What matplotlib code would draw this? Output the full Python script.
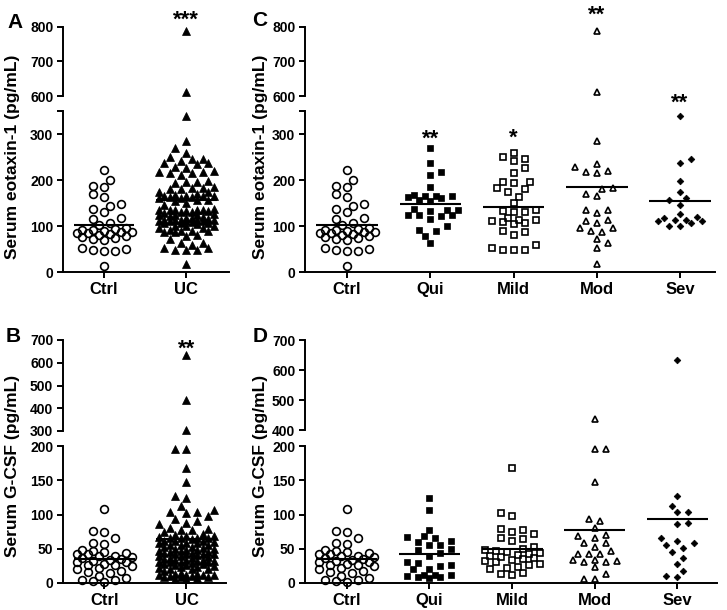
import matplotlib.pyplot as plt
import matplotlib.transforms as mtransforms
import numpy as np

# Serum eotaxin-1 (pg/mL)
eot_ctrl = [222, 201, 187, 184, 169, 164, 147, 144, 138, 130, 117, 115, 106, 102,
            95, 93, 92, 92, 90, 88, 86, 85, 84, 82, 80, 78, 76, 75, 72, 70,
            52, 50, 48, 46, 45, 12]
eot_qui = [269, 236, 217, 211, 184, 167, 166, 165, 165, 163, 160, 157, 155, 136,
           135, 134, 132, 124, 123, 122, 125, 115, 100, 91, 89, 78, 62]
eot_mild = [259, 251, 245, 241, 227, 215, 195, 193, 196, 182, 180, 173, 164, 151,
            135, 133, 131, 130, 117, 114, 110, 108, 114, 106, 104, 86, 81, 90,
            58, 48, 47, 47, 52]
eot_mod = [788, 612, 285, 228, 218, 215, 220, 234, 180, 165, 170, 182, 135, 135,
           128, 107, 113, 110, 95, 88, 90, 95, 72, 63, 53, 17]
eot_sev = [340, 245, 237, 197, 174, 161, 157, 146, 126, 120, 110, 107, 112, 118,
           110, 113, 100, 100]

# Serum G-CSF (pg/mL)
gcsf_ctrl = [108, 76, 75, 65, 58, 57, 48, 46, 45, 44, 43, 42, 40, 40, 38, 37, 35,
             33, 32, 30, 30, 28, 27, 26, 25, 22, 20, 18, 16, 15, 10, 8, 5, 4, 3, 2]
gcsf_qui = [124, 107, 78, 69, 67, 65, 61, 60, 56, 55, 49, 48, 44, 40, 30, 29, 26,
            25, 21, 20, 12, 11, 10, 9, 9, 8, 11]
gcsf_mild = [168, 102, 98, 79, 78, 74, 71, 66, 64, 62, 50, 52, 48, 46, 45, 44, 42,
             41, 40, 38, 36, 35, 33, 32, 30, 28, 26, 24, 22, 20, 15, 13, 12]
gcsf_mod = [436, 195, 195, 148, 94, 90, 81, 69, 65, 70, 59, 58, 52, 46, 43, 42, 42,
            33, 31, 33, 30, 32, 24, 13, 6, 6]
gcsf_sev = [633, 127, 104, 103, 112, 86, 87, 61, 66, 58, 55, 51, 45, 37, 28, 18, 9, 10]
gcsf_uc_extra = [305]

eot_uc = eot_qui + eot_mild + eot_mod + eot_sev
gcsf_uc = gcsf_qui + gcsf_mild + gcsf_mod + gcsf_sev + gcsf_uc_extra

two_groups = ["Ctrl", "UC"]
five_groups = ["Ctrl", "Qui", "Mild", "Mod", "Sev"]

plt.rcParams.update({
    "font.family": ["Liberation Sans", "DejaVu Sans"],
    "font.weight": "bold",
    "axes.linewidth": 1.4,
})

styles = {
    "ctrl": dict(marker="o", ms=5.6, mfc="none", mec="k", mew=1.2),
    "uc": dict(marker="^", ms=5.2, mfc="k", mec="k", mew=0.5),
    "qui": dict(marker="s", ms=5.0, mfc="k", mec="k", mew=0.5),
    "mild": dict(marker="s", ms=4.6, mfc="none", mec="k", mew=1.2),
    "mod": dict(marker="^", ms=4.6, mfc="none", mec="k", mew=1.2),
    "sev": dict(marker="D", ms=3.4, mfc="k", mec="k", mew=0.5),
}

W, H = 727, 610
fig = plt.figure(figsize=(W / 100, H / 100), dpi=100)


def px_box(x0, x1, ytop, ybot):
    return [x0 / W, 1 - ybot / H, (x1 - x0) / W, (ybot - ytop) / H]


def beeswarm(ypx, diam=8.0, step=5.5, maxhalf=30.0):
    # place points one by one (low to high) at the free spot nearest the centre
    n_side = int(maxhalf // step)
    placed = []
    xs = np.zeros(len(ypx))
    for k, i in enumerate(np.argsort(ypx)):
        sgn = 1 if k % 2 == 0 else -1
        cands = [0.0]
        for j in range(1, n_side + 1):
            cands += [sgn * j * step, -sgn * j * step]
        best, bestd = 0.0, -1.0
        for c in cands:
            d = min((np.hypot(c - px, ypx[i] - py) for px, py in placed), default=1e9)
            if d >= diam:
                best = c
                break
            if d > bestd:
                best, bestd = c, d
        xs[i] = best
        placed.append((best, ypx[i]))
    return xs


def panel(x0, x1, low_box, up_box, low_lim, up_lim, low_ticks, low_labels,
          up_ticks, groups, names, xlim):
    ax_lo = fig.add_axes(px_box(x0, x1, *low_box))
    ax_up = fig.add_axes(px_box(x0, x1, *up_box))
    for ax in (ax_lo, ax_up):
        ax.set_xlim(*xlim)
        ax.spines["top"].set_visible(False)
        ax.spines["right"].set_visible(False)
        ax.tick_params(axis="y", direction="out", length=4, width=1.4,
                       labelsize=10, pad=3)
        ax.patch.set_alpha(0)
    ax_up.spines["bottom"].set_visible(False)
    ax_up.set_xticks([])
    ax_lo.set_ylim(*low_lim)
    ax_up.set_ylim(*up_lim)
    ax_lo.set_yticks(low_ticks, low_labels)
    ax_up.set_yticks(up_ticks)
    ax_lo.set_xticks(range(len(names)), names)
    ax_lo.tick_params(axis="x", length=4, width=1.4, labelsize=12, pad=3)

    xpx = (x1 - x0) / (xlim[1] - xlim[0])
    for i, (vals, st) in enumerate(groups):
        v = np.asarray(vals, float)
        for ax, (lo, hi), (yt, yb) in ((ax_lo, low_lim, low_box), (ax_up, up_lim, up_box)):
            m = (v >= lo) & (v <= hi)
            ypx = (v[m] - lo) * (yb - yt) / (hi - lo)
            xs = i + beeswarm(ypx) / xpx
            ax.plot(xs, v[m], ls="none", clip_on=False, zorder=4, **styles[st])
        ax_lo.hlines(v.mean(), i - 0.37, i + 0.37, color="k", lw=1.5, zorder=5)
    return ax_lo, ax_up


def stars(ax, x, ypx, s):
    tr = mtransforms.blended_transform_factory(ax.transData, fig.transFigure)
    ax.text(x, 1 - (ypx + 12) / H, s, transform=tr, ha="center", va="baseline",
            fontsize=16)


# A
a_lo, a_up = panel(63, 229, (111, 272), (27, 96), (0, 350), (600, 800),
                   [0, 100, 200, 300, 350], ["0", "100", "200", "300", ""],
                   [600, 700, 800],
                   [(eot_ctrl, "ctrl"), (eot_uc, "uc")], two_groups, (-0.5, 1.52))
stars(a_lo, 1, 14, "***")

# C
c_lo, c_up = panel(305, 715, (111, 272), (27, 96), (0, 350), (600, 800),
                   [0, 100, 200, 300, 350], ["0", "100", "200", "300", ""],
                   [600, 700, 800],
                   [(eot_ctrl, "ctrl"), (eot_qui, "qui"), (eot_mild, "mild"),
                    (eot_mod, "mod"), (eot_sev, "sev")], five_groups, (-0.506, 4.42))
stars(c_lo, 1, 133, "**")
stars(c_lo, 2, 132, "*")
stars(c_lo, 3, 9, "**")
stars(c_lo, 4, 97, "**")

# B
b_lo, b_up = panel(63, 226, (446, 583), (340, 431), (0, 200), (300, 700),
                   [0, 50, 100, 150, 200], ["0", "50", "100", "150", "200"],
                   [300, 400, 500, 600, 700],
                   [(gcsf_ctrl, "ctrl"), (gcsf_uc, "uc")], two_groups, (-0.5, 1.48))
stars(b_lo, 1, 343, "**")

# D
d_lo, d_up = panel(305, 717, (446, 583), (340, 430), (0, 200), (400, 700),
                   [0, 50, 100, 150, 200], ["0", "50", "100", "150", "200"],
                   [400, 500, 600, 700],
                   [(gcsf_ctrl, "ctrl"), (gcsf_qui, "qui"), (gcsf_mild, "mild"),
                    (gcsf_mod, "mod"), (gcsf_sev, "sev")], five_groups, (-0.506, 4.48))

# axis titles and panel letters
for xp, yp, s in [(13, 157, "Serum eotaxin-1 (pg/mL)"), (261, 157, "Serum eotaxin-1 (pg/mL)"),
                  (13, 466, "Serum G-CSF (pg/mL)"), (261, 466, "Serum G-CSF (pg/mL)")]:
    fig.text(xp / W, 1 - yp / H, s, rotation=90, ha="center", va="center", fontsize=12.5)

for xp, yp, s in [(15, 23, "A"), (260, 20, "C"), (13, 337, "B"), (260, 337, "D")]:
    fig.text(xp / W, 1 - yp / H, s, ha="center", va="center", fontsize=15)

fig.savefig("out.png", dpi=100)
